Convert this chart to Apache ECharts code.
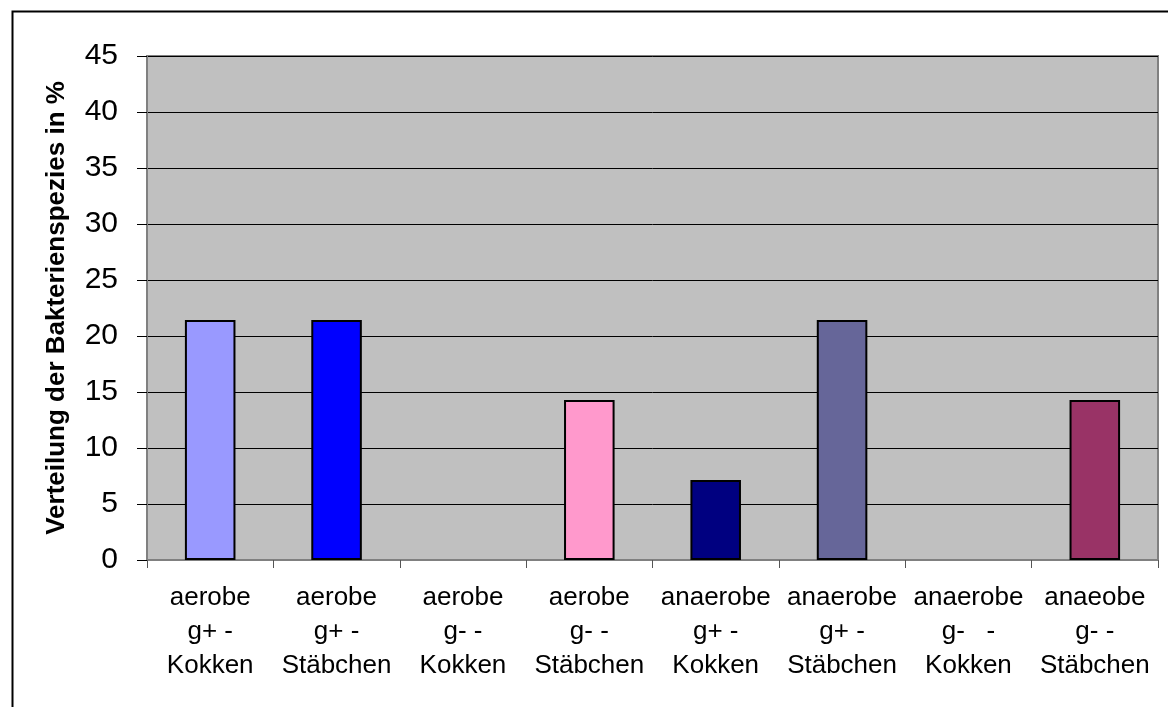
<!DOCTYPE html>
<html>
<head>
<meta charset="utf-8">
<script src="https://cdn.jsdelivr.net/npm/echarts@6/dist/echarts.min.js"></script>
<style>html,body{margin:0;padding:0;background:#fff}#c{width:1168px;height:707px}</style>
</head>
<body>
<div id="c"></div>
<script>
const categories = [
  "aerobe\ng+ -\nKokken",
  "aerobe\ng+ -\nStäbchen",
  "aerobe\ng- -\nKokken",
  "aerobe\ng- -\nStäbchen",
  "anaerobe\ng+ -\nKokken",
  "anaerobe\ng+ -\nStäbchen",
  "anaerobe\ng-   -\nKokken",
  "anaeobe\ng- -\nStäbchen"
];
const values = [21.43, 21.43, 0, 14.29, 7.14, 21.43, 0, 14.29];
const barColors = ["#9999FF", "#0000FF", "#993366", "#FF99CC", "#000080", "#666699", "#CCFFFF", "#993366"];
const yAxisName = "Verteilung der Bakterienspezies in %";

const FONT = "'Liberation Sans', Arial, sans-serif";
const chart = echarts.init(document.getElementById('c'), null, {renderer: 'canvas'});
chart.setOption({
  animation: false,
  backgroundColor: '#ffffff',
  graphic: [{
    type: 'rect', left: 10, top: 9, z: 100, silent: true,
    shape: {x: 0, y: 0, width: 1200, height: 760},
    style: {fill: 'none', stroke: '#000', lineWidth: 2}
  }],
  grid: {
    left: 147, right: 10, top: 56, bottom: 147,
    show: true, backgroundColor: '#C0C0C0', borderColor: '#808080', borderWidth: 2
  },
  xAxis: {
    type: 'category',
    data: categories,
    boundaryGap: true,
    axisLine: {show: true, lineStyle: {color: '#808080', width: 2}},
    axisTick: {show: true, length: 8, alignWithLabel: false, lineStyle: {color: '#555', width: 1}},
    axisLabel: {
      interval: 0, margin: 21, color: '#000',
      fontFamily: FONT, fontSize: 26, lineHeight: 34, align: 'center'
    }
  },
  yAxis: {
    type: 'value', min: 0, max: 45, interval: 5,
    name: yAxisName, nameLocation: 'middle', nameGap: 77, nameRotate: 90,
    nameTextStyle: {fontFamily: FONT, fontSize: 26, fontWeight: 'bold', color: '#000'},
    axisLine: {show: true, lineStyle: {color: '#808080', width: 2}},
    axisTick: {show: true, length: 10, lineStyle: {color: '#000', width: 1}},
    axisLabel: {margin: 29, color: '#000', fontFamily: FONT, fontSize: 30},
    splitLine: {show: true, lineStyle: {color: '#000', width: 1}}
  },
  series: [{
    type: 'bar',
    data: values.map((v, i) => ({
      value: v,
      itemStyle: {color: barColors[i], borderWidth: v > 0 ? 2 : 0}
    })),
    barWidth: '40%',
    itemStyle: {borderColor: '#000', borderWidth: 2}
  }]
});
</script>
</body>
</html>
